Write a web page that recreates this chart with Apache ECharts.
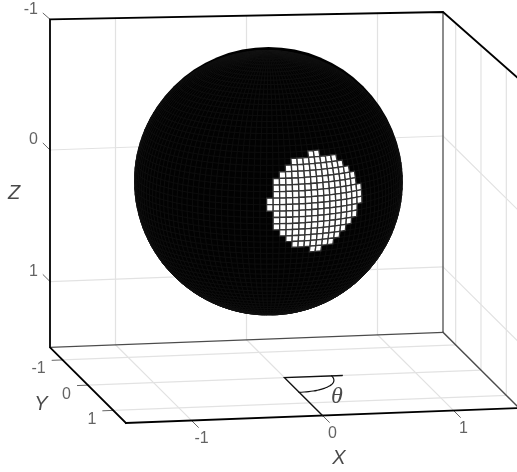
<!DOCTYPE html>
<html><head><meta charset="utf-8">
<style>html,body{margin:0;padding:0;background:#fff}#c{width:517px;height:472px}</style>
<script src="https://cdn.jsdelivr.net/npm/echarts@6/dist/echarts.min.js"></script>
</head><body><div id="c"></div>
<script>
// ---- data ----
const xTicks = [-1, 0, 1];
const yTicks = [-1, 0, 1];
const zTicks = [-1, 0, 1];
const xRange = [-1.5, 1.5];
const yRange = [-1.5, 1.5];
const zRange = [-1, 1.5];
const axisNames = ['X', 'Y', 'Z'];
const angleName = 'θ';
// white patch: [latitude band, first longitude cell, last longitude cell]
const whiteRows = [
  [8, 7, 8], [7, 4, 11], [6, 3, 12], [5, 2, 13], [4, 1, 14], [3, 1, 14], [2, 1, 15], [1, 0, 15],
  [0, 0, 15], [-1, 1, 14], [-2, 1, 14], [-3, 1, 13], [-4, 2, 12], [-5, 3, 11], [-6, 4, 10], [-7, 7, 8]
];
const cellDeg = 2.8125;
const lonBands = 64;
const latBands = 64;

// ---- projection config ----
const top_ = {bl:[50,19.3], br:[443,12], fl:[126,86.3], fr:[519,79]};
const mid_ = {bl:[50,150], br:[443,136], fl:[126,225], fr:[519,211]};
const bot_ = {bl:[50,347.3], br:[443,332.3], fl:[126,423], fr:[519,408]};
function mix(a,b,t){return [a[0]+(b[0]-a[0])*t, a[1]+(b[1]-a[1])*t];}
function level(c,u,v){return mix(mix(c.bl,c.br,u),mix(c.fl,c.fr,u),v);}
function P(x,y,z){
  const u=(x-xRange[0])/(xRange[1]-xRange[0]), v=(y-yRange[0])/(yRange[1]-yRange[0]);
  if(z<=0) return mix(level(top_,u,v),level(mid_,u,v),(z-zRange[0])/(0-zRange[0]));
  return mix(level(mid_,u,v),level(bot_,u,v),z/zRange[1]);
}
const sph={cx:268.5,cy:181,R:134,e:13*Math.PI/180,phase:0.6};
function S(latDeg,lonDeg){
  const f=latDeg*Math.PI/180,l=lonDeg*Math.PI/180;
  const X=Math.cos(f)*Math.sin(l),D=Math.cos(f)*Math.cos(l),Z=Math.sin(f);
  const v=Z*Math.cos(sph.e)-D*Math.sin(sph.e), w=Z*Math.sin(sph.e)+D*Math.cos(sph.e);
  return {p:[sph.cx+sph.R*X,sph.cy-sph.R*v],w};
}
function cellPoly(k,m){
  const la0=k*cellDeg,la1=(k+1)*cellDeg,lo=sph.phase+m*cellDeg;
  return [S(la0,lo-cellDeg/2),S(la0,lo+cellDeg/2),S(la1,lo+cellDeg/2),S(la1,lo-cellDeg/2)];
}
function cellRender(fill,stroke,lw){
  return function(params,api){
    const c=cellPoly(api.value(0),api.value(1));
    if(Math.max(c[0].w,c[1].w,c[2].w,c[3].w)<0) return null;
    return {type:'polygon',shape:{points:c.map(q=>api.coord(q.p))},style:{fill,stroke,lineWidth:lw},silent:true};
  };
}
const blackCells=[];
for(let k=-latBands/2;k<latBands/2;k++)for(let m=-lonBands/2-1;m<lonBands/2;m++)blackCells.push([k,m]);
const whiteCells=[];
whiteRows.forEach(r=>{for(let m=r[1];m<=r[2];m++)whiteCells.push([r[0],m]);});

// ---- line helpers ----
const [x0,x1]=xRange,[y0,y1]=yRange,[z0,z1]=zRange;
function line(pts,color,w){return {type:'line',data:pts,symbol:'none',silent:true,animation:false,clip:false,
  lineStyle:{color,width:w,cap:'square',join:'miter'},z:3};}
const GRID='#e2e2e2',DARK='#000',MID='#4c4c4c',TICK='#666666';
const gridSeries=[],frontSeries=[],tickLabels=[];
xTicks.forEach(x=>{
  gridSeries.push(line([P(x,y0,z0),P(x,y0,z1)],GRID,1.2));
  gridSeries.push(line([P(x,y0,z1),P(x,y1,z1)],GRID,1.2));
  frontSeries.push(line([P(x,y1,z1),P(x,y1+0.27,z1)],TICK,1));
  const q=P(x,y1,z1); tickLabels.push({pos:[q[0]+10,q[1]+18],text:String(x),align:'center'});
});
yTicks.forEach(y=>{
  gridSeries.push(line([P(x1,y,z0),P(x1,y,z1)],GRID,1.2));
  gridSeries.push(line([P(x0,y,z1),P(x1,y,z1)],GRID,1.2));
  frontSeries.push(line([P(x0,y,z1),P(x0-0.08,y,z1)],TICK,1));
  const q=P(x0,y,z1); tickLabels.push({pos:[q[0]-17,q[1]+9],text:String(y),align:'right'});
});
zTicks.forEach(z=>{
  if(z>z0){
    gridSeries.push(line([P(x0,y0,z),P(x1,y0,z)],GRID,1.2));
    gridSeries.push(line([P(x1,y0,z),P(x1,y1,z)],GRID,1.2));
  }
  frontSeries.push(line([P(x0,y0,z),P(x0,y0-0.27,z)],TICK,1));
  const q=P(x0,y0,z); tickLabels.push({pos:[q[0]-12,q[1]-10],text:String(z),align:'right'});
});
// frame
frontSeries.push(line([P(x0,y0,z1),P(x1,y0,z1)],MID,1.2));
frontSeries.push(line([P(x1,y0,z0),P(x1,y0,z1)],'#666',1.5));
frontSeries.push(line([P(x1,y0,z1),P(x1,y1,z1)],MID,1.5));
frontSeries.push(line([P(x0,y1,z1),P(x0,y0,z1),P(x0,y0,z0),P(x1,y0,z0),P(x1,y1,z0)],DARK,1.8));
frontSeries.push(line([P(x0,y1,z1),P(x1,y1,z1)],DARK,1.8));
// theta annotation on the floor
const ox=0,oy=0,arcX=0.36,arcY=0.58,rayX=0.44;
frontSeries.push(line([P(ox+rayX,oy,z1),P(ox,oy,z1),P(ox,y1,z1)],'#111',1.4));
const arcPts=[];for(let t=0;t<=90;t+=6){const a=t*Math.PI/180;arcPts.push(P(ox+arcX*Math.cos(a),oy+arcY*Math.sin(a),z1));}
const arcSeries=line(arcPts,'#111',1.2);arcSeries.smooth=true;frontSeries.push(arcSeries);

const textItems=tickLabels.map(l=>({value:l.pos,label:{show:true,position:'inside',formatter:l.text,align:l.align,verticalAlign:'middle',
   fontFamily:'Liberation Sans',fontSize:16,color:'#3c3c3c'}}));
const nameFont={show:true,position:'inside',align:'center',verticalAlign:'middle',fontFamily:'Liberation Sans',fontStyle:'italic',fontSize:20,color:'#1c1c1c'};
textItems.push({value:[339,458],label:Object.assign({},nameFont,{formatter:axisNames[0]})});
textItems.push({value:[41,404],label:Object.assign({},nameFont,{formatter:axisNames[1]})});
textItems.push({value:[14,193],label:Object.assign({},nameFont,{formatter:axisNames[2]})});
textItems.push({value:[337,397],label:Object.assign({},nameFont,{formatter:angleName,fontFamily:'Liberation Serif',fontSize:24})});

const chart=echarts.init(document.getElementById('c'),null,{renderer:'canvas'});
chart.setOption({
  animation:false,backgroundColor:'#fff',
  grid:{left:0,right:0,top:0,bottom:0},
  xAxis:{type:'value',min:0,max:517,show:false},
  yAxis:{type:'value',min:0,max:472,inverse:true,show:false},
  tooltip:{show:false},
  series:[
    ...gridSeries,
    {type:'scatter',data:[[sph.cx,sph.cy]],symbol:'circle',symbolSize:2*sph.R,itemStyle:{color:'#000',opacity:1},silent:true,z:4},
    {type:'custom',data:blackCells,renderItem:cellRender('#020202','#141414',0.5),progressive:0,silent:true,z:5,clip:false},
    {type:'custom',data:whiteCells,renderItem:cellRender('#ffffff','#333333',1.3),progressive:0,silent:true,z:6,clip:false},
    ...frontSeries.map(s=>Object.assign(s,{z:7})),
    {type:'scatter',data:textItems,symbolSize:0,silent:true,z:8}
  ]
});
</script></body></html>
